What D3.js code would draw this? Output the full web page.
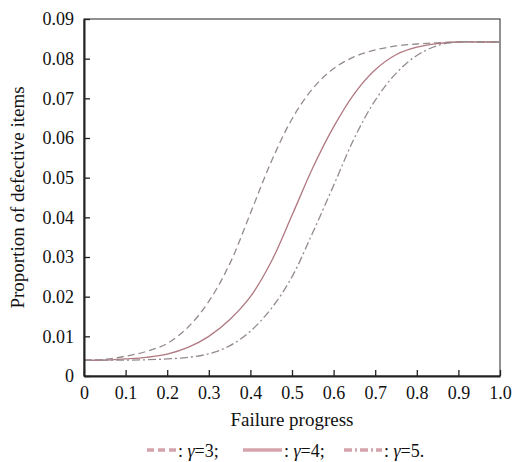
<!DOCTYPE html>
<html>
<head>
<meta charset="utf-8">
<script src="https://cdn.jsdelivr.net/npm/d3@7"></script>
<style>
  body { margin: 0; background: #fff; }
</style>
</head>
<body>
<svg id="chart" width="515" height="462"></svg>
<script>
const progress = [0, 0.05, 0.1, 0.15, 0.2, 0.25, 0.3, 0.35, 0.4, 0.45, 0.5,
  0.55, 0.6, 0.65, 0.7, 0.75, 0.8, 0.85, 0.9, 0.95, 1.0];

const gamma3 = [0.0040, 0.0042, 0.0050, 0.0062, 0.0082, 0.0123, 0.0188, 0.0282, 0.0410, 0.0540, 0.0648,
  0.0725, 0.0775, 0.0805, 0.0822, 0.0832, 0.0837, 0.0840, 0.0842, 0.0842, 0.0842];
const gamma4 = [0.0040, 0.0040, 0.0043, 0.0047, 0.0055, 0.0072, 0.0100, 0.0142, 0.0200, 0.0288, 0.0405,
  0.0525, 0.0628, 0.0712, 0.0772, 0.0810, 0.0829, 0.0838, 0.0842, 0.0842, 0.0842];
const gamma5 = [0.0040, 0.0040, 0.0040, 0.0041, 0.0043, 0.0047, 0.0056, 0.0076, 0.0113, 0.0170, 0.0250,
  0.0362, 0.0480, 0.0600, 0.0695, 0.0763, 0.0808, 0.0833, 0.0842, 0.0842, 0.0842];

const xTicks = [0, 0.1, 0.2, 0.3, 0.4, 0.5, 0.6, 0.7, 0.8, 0.9, 1.0];
const yTicks = [0, 0.01, 0.02, 0.03, 0.04, 0.05, 0.06, 0.07, 0.08, 0.09];

const series = [
  { label: "3", values: gamma3, color: "#948a8d", dash: "7,4" },
  { label: "4", values: gamma4, color: "#b07880", dash: null },
  { label: "5", values: gamma5, color: "#948a8d", dash: "8,3,2,3" }
];

const FONT = "Liberation Serif";

const margin = { top: 19, right: 15, bottom: 86, left: 84 };
const width = 515 - margin.left - margin.right;
const height = 462 - margin.top - margin.bottom;

const svg = d3.select("#chart");
const g = svg.append("g").attr("transform", `translate(${margin.left},${margin.top})`);

const x = d3.scaleLinear().domain([0, 1]).range([0, width]);
const y = d3.scaleLinear().domain([0, 0.09]).range([height, 0]);

// frame
g.append("rect")
  .attr("width", width).attr("height", height)
  .attr("fill", "none").attr("stroke", "#222").attr("stroke-width", 1);

// curves
const line = d3.line()
  .x((d, i) => x(progress[i]))
  .y(d => y(d))
  .curve(d3.curveCatmullRom.alpha(0.5));

series.forEach(s => {
  g.append("path")
    .datum(s.values)
    .attr("fill", "none")
    .attr("stroke", s.color)
    .attr("stroke-width", 1.3)
    .attr("stroke-dasharray", s.dash)
    .attr("d", line);
});

// axes
const xAxis = g.append("g")
  .attr("transform", `translate(0,${height})`)
  .call(d3.axisBottom(x).tickValues(xTicks).tickSizeInner(-6).tickSizeOuter(0)
    .tickPadding(10).tickFormat(d => d === 0 ? "0" : d3.format(".1f")(d)));

const yAxis = g.append("g")
  .call(d3.axisLeft(y).tickValues(yTicks).tickSizeInner(-6).tickSizeOuter(0)
    .tickPadding(10).tickFormat(d => d === 0 ? "0" : d3.format(".2f")(d)));

[xAxis, yAxis].forEach(a => {
  a.attr("font-family", null).attr("font-size", null);
  a.select(".domain").attr("stroke", "#222").attr("stroke-width", 2);
  a.selectAll(".tick line").attr("stroke", "#222").attr("stroke-width", 1.3);
  a.selectAll(".tick text").attr("fill", "#111")
    .style("font-family", FONT).style("font-size", "18px");
});

// axis titles
svg.append("text")
  .attr("x", margin.left + width / 2).attr("y", 426)
  .attr("text-anchor", "middle").attr("fill", "#111")
  .style("font-family", FONT).style("font-size", "19px")
  .text("Failure progress");

svg.append("text")
  .attr("transform", `translate(24,${margin.top + height / 2}) rotate(-90)`)
  .attr("text-anchor", "middle").attr("fill", "#111")
  .style("font-family", FONT).style("font-size", "19px")
  .text("Proportion of defective items");

// legend
const legendY = 451;
const legendItems = [
  { sx: 147, sw: 30, tx: 178, dash: "7,4", end: ";" },
  { sx: 243, sw: 39, tx: 284, dash: null, end: ";" },
  { sx: 344, sw: 38, tx: 384, dash: "8,3,2,3", end: "." }
];
legendItems.forEach((it, i) => {
  svg.append("line")
    .attr("x1", it.sx).attr("x2", it.sx + it.sw)
    .attr("y1", legendY - 1).attr("y2", legendY - 1)
    .attr("stroke", "#d4a3ab").attr("stroke-width", 3.5)
    .attr("stroke-dasharray", it.dash);
  const t = svg.append("text")
    .attr("x", it.tx).attr("y", legendY + 6).attr("fill", "#111")
    .style("font-family", FONT).style("font-size", "18px");
  t.append("tspan").text(" : ");
  t.append("tspan").attr("font-style", "italic").text("γ");
  t.append("tspan").text("=" + series[i].label + it.end);
});
</script>
</body>
</html>
